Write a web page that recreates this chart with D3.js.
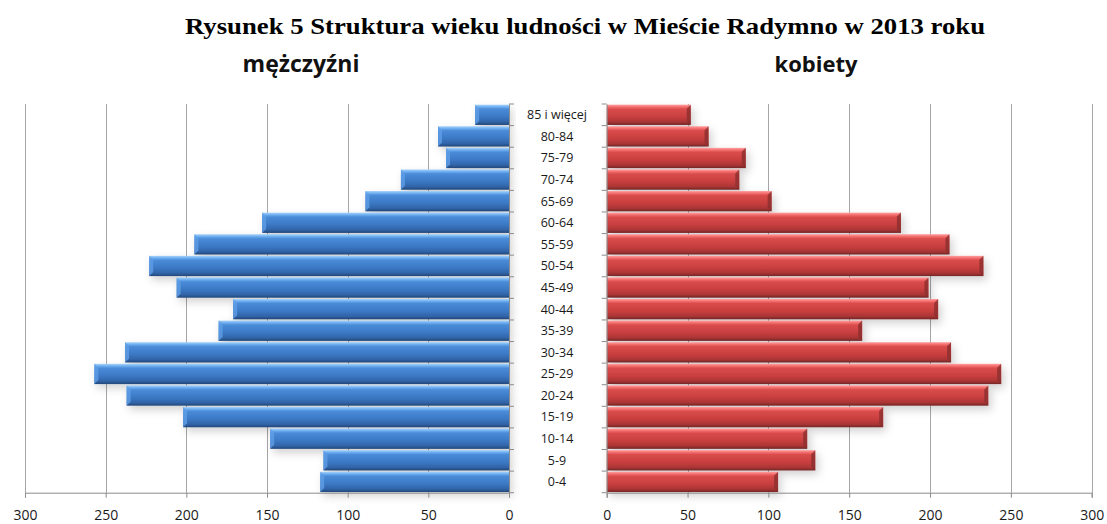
<!DOCTYPE html>
<html lang="pl">
<head>
<meta charset="UTF-8">
<title>Struktura wieku ludności</title>
<script src="https://cdn.jsdelivr.net/npm/d3@7"></script>
<style>
  body { margin: 0; background: #fff; }
</style>
</head>
<body>
<svg id="chart"></svg>
<script>
    // age groups, from the oldest (top) to the youngest (bottom)
    const ageGroups = ["85 i więcej", "80-84", "75-79", "70-74", "65-69", "60-64", "55-59", "50-54",
        "45-49", "40-44", "35-39", "30-34", "25-29", "20-24", "15-19", "10-14", "5-9", "0-4"];
    const men   = [21, 44, 39, 67, 89, 153, 195, 223, 206, 171, 180, 238, 257, 237, 202, 148, 115, 117];
    const women = [52, 63, 86, 82, 102, 182, 212, 233, 199, 205, 158, 213, 244, 236, 171, 124, 129, 106];
    const xTicks = [0, 50, 100, 150, 200, 250, 300];

    const width = 1107, height = 524;

    let svg = d3.select("#chart")
        .attr("width", width)
        .attr("height", height);

    let defs = svg.append("defs");

    // bevelled bar gradients
    function barGradient(id, stops) {
        let g = defs.append("linearGradient")
            .attr("id", id)
            .attr("x1", 0).attr("y1", 0).attr("x2", 0).attr("y2", 1);
        stops.forEach(function (s) {
            g.append("stop").attr("offset", s[0]).attr("stop-color", s[1]);
        });
    }
    barGradient("blueGrad", [[0, "#a9d4fb"], [0.12, "#6aabee"], [0.22, "#4a8bd8"], [0.6, "#3b78c4"], [0.85, "#3164a8"], [1, "#22477a"]]);
    barGradient("redGrad", [[0, "#ffa0a0"], [0.12, "#f26a6a"], [0.22, "#da4c4c"], [0.6, "#c83e3e"], [0.85, "#ab3535"], [1, "#742626"]]);

    let shadow = defs.append("filter").attr("id", "shadow")
        .attr("x", "-10%").attr("y", "-50%").attr("width", "130%").attr("height", "250%");
    shadow.append("feDropShadow")
        .attr("dx", 3).attr("dy", 4).attr("stdDeviation", 4)
        .attr("flood-color", "#000").attr("flood-opacity", 0.18);

    // scales
    let xL = d3.scaleLinear().domain([0, 300]).range([509, 25]);
    let xR = d3.scaleLinear().domain([0, 300]).range([606.7, 1091.7]);
    let y = d3.scaleBand().domain(ageGroups).range([104, 492.7]).paddingInner(0.06).paddingOuter(0.03);
    let yTop = 104, yBot = 492.7;

    // title
    svg.append("text")
        .attr("x", 585).attr("y", 34)
        .attr("text-anchor", "middle")
        .attr("textLength", 800)
        .attr("lengthAdjust", "spacingAndGlyphs")
        .style("font-family", "'Liberation Serif', 'Times New Roman', serif")
        .style("font-weight", "bold")
        .style("font-size", "23px")
        .attr("fill", "#000")
        .text("Rysunek 5 Struktura wieku ludności w Mieście Radymno w 2013 roku");

    // side titles
    svg.append("text")
        .attr("x", 301).attr("y", 72)
        .attr("text-anchor", "middle")
        .style("font-family", "'Open Sans', sans-serif")
        .style("font-weight", "bold")
        .style("font-size", "23px")
        .attr("fill", "#111")
        .text("mężczyźni");
    svg.append("text")
        .attr("x", 816).attr("y", 72)
        .attr("text-anchor", "middle")
        .style("font-family", "'Open Sans', sans-serif")
        .style("font-weight", "bold")
        .style("font-size", "22px")
        .attr("fill", "#111")
        .text("kobiety");

    function drawSide(x, values, grad, isLeft) {
        let g = svg.append("g");

        // vertical gridlines
        g.selectAll(".grid")
            .data(xTicks.slice(1))
            .enter().append("line")
            .attr("x1", function (d) { return Math.round(x(d)) + 0.5; })
            .attr("x2", function (d) { return Math.round(x(d)) + 0.5; })
            .attr("y1", yTop).attr("y2", yBot)
            .attr("stroke", "#a6a6a6").attr("stroke-width", 1);

        // bars
        let bars = g.selectAll(".bar")
            .data(values)
            .enter().append("g")
            .attr("filter", "url(#shadow)");

        bars.append("rect")
            .attr("x", function (d) { return Math.min(x(0), x(d)); })
            .attr("y", function (d, i) { return y(ageGroups[i]); })
            .attr("width", function (d) { return Math.abs(x(d) - x(0)); })
            .attr("height", y.bandwidth())
            .attr("fill", "url(#" + grad + ")");

        // bevel at the outer end of the bar
        bars.append("path")
            .attr("d", function (d, i) {
                let x0 = x(d), yy = y(ageGroups[i]), h = y.bandwidth(), b = 4;
                let s = isLeft ? 1 : -1;
                return "M" + x0 + "," + yy + "L" + (x0 + s * b) + "," + (yy + b) +
                    "L" + (x0 + s * b) + "," + (yy + h - b) + "L" + x0 + "," + (yy + h) + "Z";
            })
            .attr("fill", isLeft ? "#5f9ee6" : "#8c2e2e")
            .attr("opacity", 0.8);

        // bottom axis
        let axis = d3.axisBottom(x);
        let ax = svg.append("g")
            .attr("transform", "translate(0," + yBot + ")")
            .call(axis.tickValues(xTicks).tickSize(5).tickPadding(12));
        ax.select(".domain").attr("stroke", "#8c8c8c");
        ax.selectAll(".tick line").attr("stroke", "#8c8c8c");
        ax.selectAll(".tick text")
            .style("font-family", "'Open Sans', sans-serif")
            .style("font-size", "14px")
            .attr("fill", "#1a1a1a");

        // category axis next to the labels
        let cat = isLeft ? d3.axisRight(y) : d3.axisLeft(y);
        let ay = svg.append("g")
            .attr("transform", "translate(" + x(0) + ",0)")
            .call(cat.tickSize(0).tickFormat(""));
        ay.select(".domain").attr("stroke", "#8c8c8c");
        // small ticks at the band boundaries
        let step = y.step();
        ay.selectAll(".bound")
            .data(d3.range(ageGroups.length + 1))
            .enter().append("line")
            .attr("x1", 0).attr("x2", isLeft ? 5 : -5)
            .attr("y1", function (d) { return yTop + d * step; })
            .attr("y2", function (d) { return yTop + d * step; })
            .attr("stroke", "#8c8c8c");
    }

    drawSide(xL, men, "blueGrad", true);
    drawSide(xR, women, "redGrad", false);

    // age group labels between the two halves
    svg.append("g").selectAll("text")
        .data(ageGroups)
        .enter().append("text")
        .attr("x", 557)
        .attr("y", function (d) { return y(d) + y.bandwidth() / 2; })
        .attr("dy", "0.35em")
        .attr("text-anchor", "middle")
        .style("font-family", "'Open Sans', sans-serif")
        .style("font-size", "12.5px")
        .attr("fill", "#1a1a1a")
        .text(function (d) { return d; });
</script>
</body>
</html>
